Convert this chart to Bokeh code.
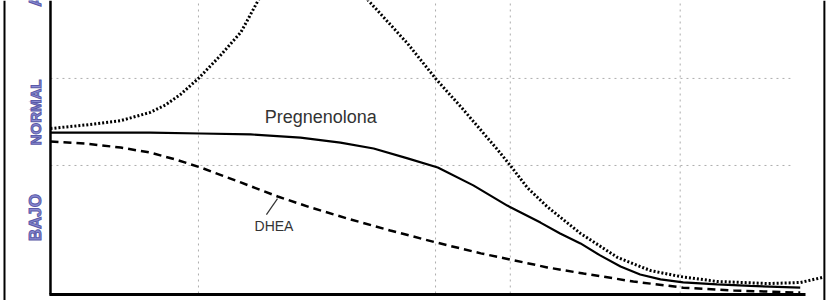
from bokeh.plotting import figure
from bokeh.models import Range1d, Span
from bokeh.core.properties import value
from bokeh.embed import file_html
from bokeh.resources import INLINE
import math

# ---- data (x: relative time 0-100, y: relative level 0-100) ----
preg_x = [0, 6.6, 13.2, 19.9, 26.5, 33.1, 38.4, 42.8, 47.3, 51.3, 56.0,
          60.5, 64.9, 67.5, 70.2, 72.8, 75.5, 78.1, 80.8, 83.8, 88.3, 92.7, 99.3]
preg_y = [54.9, 54.9, 54.9, 54.6, 54.3, 53.2, 51.5, 49.5, 46.1, 43.0, 36.9,
          30.0, 24.2, 20.5, 17.1, 13.0, 9.2, 6.5, 4.8, 3.8, 3.1, 2.6, 2.0]

dhea_x = [0, 4.6, 9.3, 13.2, 16.6, 19.9, 25.2, 30.1, 34.4, 39.3, 45.0, 51.1, 57.0,
          60.9, 65.8, 70.6, 77.2, 83.8, 90.5, 99.3]
dhea_y = [51.9, 51.2, 49.8, 48.1, 45.7, 43.0, 37.9, 33.1, 29.4, 25.6, 21.5, 17.4, 13.7,
          11.6, 8.9, 6.8, 4.1, 2.0, 1.0, 0.3]

dot_x = [0, 4.6, 9.3, 13.2, 15.2, 17.2, 19.6, 22.5, 25.2, 27.5, 31.1, 34.8, 38.4, 42.1, 47.3,
         51.0, 55.0, 59.3, 60.9, 63.2, 65.8, 70.2, 75.1, 79.5, 83.4, 88.3, 95.0, 99.3, 102.3]
dot_y = [56.3, 57.5, 59.0, 61.8, 64.3, 67.9, 73.4, 81.2, 89.1, 100.0, 113.7, 120.5, 114.3, 100.0, 85.3,
         73.4, 61.8, 48.8, 43.7, 36.0, 29.6, 20.5, 12.3, 7.8, 5.8, 4.1, 3.4, 3.75, 5.5]

level_bounds = [43.7, 73.4]
level_labels = ["BAJO", "NORMAL", "ALTO"]
level_label_y = [25.9, 61.8, 105.5]
level_label_size = ["17px", "15px", "17px"]
x_grid = [19.6, 51.0, 60.9, 83.4]

p = figure(width=830, height=300, output_backend="svg", toolbar_location=None,
           x_axis_type=None, y_axis_type=None,
           x_range=Range1d(-6.62, 103.31), y_range=Range1d(-2.39, 100),
           min_border=0, min_border_left=0, min_border_right=0,
           min_border_top=0, min_border_bottom=0)
p.outline_line_color = None
p.background_fill_color = "white"
p.border_fill_color = "white"

# grid lines
for gx in x_grid:
    p.segment(x0=gx, y0=0, x1=gx, y1=100, line_color="#adadad", line_width=1,
              line_dash="2 4")
for gy in level_bounds:
    p.segment(x0=0, y0=gy, x1=98.0, y1=gy, line_color="#adadad", line_width=1,
              line_dash="2 4")

# curves
p.line(dot_x, dot_y, line_color="black", line_width=3, line_dash="2 2")
p.line(preg_x, preg_y, line_color="black", line_width=2.2)
p.line(dhea_x, dhea_y, line_color="black", line_width=2.5, line_dash="8 5")

# axes lines
p.segment(x0=0, y0=-0.3, x1=0, y1=100, line_color="black", line_width=2.5)
p.segment(x0=-0.15, y0=-0.3, x1=100.0, y1=-0.3, line_color="black", line_width=3)

# outer frame (left/right)
p.add_layout(Span(location=-6.09, dimension="height", line_color="black", line_width=2))
p.add_layout(Span(location=102.5, dimension="height", line_color="black", line_width=2))

# annotations
p.text(x=[35.8], y=[60.1], text=["Pregnenolona"], text_align="center",
       text_baseline="alphabetic", text_font=value("Liberation Sans"),
       text_font_size="18px", text_color="#333333")
p.text(x=[29.6], y=[23.2], text=["DHEA"], text_align="center",
       text_baseline="alphabetic", text_font=value("Liberation Sans"),
       text_font_size="14px", text_color="#333333")
p.segment(x0=30.07, y0=32.4, x1=28.6, y1=26.9, line_color="#333333", line_width=1.2)

for lab, ly, fs in zip(level_labels, level_label_y, level_label_size):
    p.text(x=[-1.99], y=[ly], text=[lab], angle=math.pi / 2, text_align="center",
           text_baseline="middle", text_font=value("Liberation Sans"),
           text_font_style="bold", text_font_size=fs, text_color="#8a8ad2",
           text_outline_color="#5a5aa8")

open("out.html", "w").write(file_html(p, INLINE))
